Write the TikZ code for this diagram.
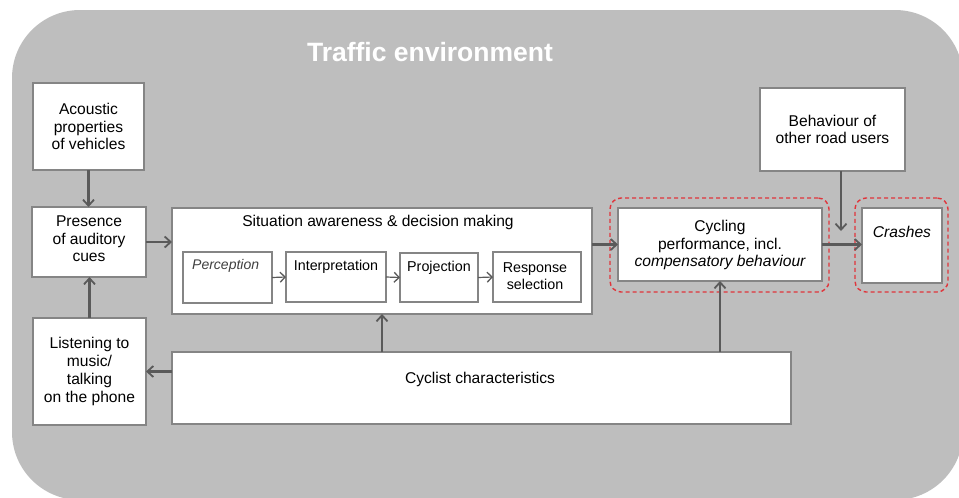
\documentclass[tikz,border=0pt]{standalone}
\usepackage{fontspec}
\setmainfont{Liberation Sans}
\usetikzlibrary{arrows.meta}
\definecolor{envgray}{HTML}{BEBEBE}
\definecolor{boxline}{HTML}{858585}
\definecolor{arrowgray}{HTML}{5A5A5A}
\definecolor{hilite}{HTML}{E0353B}
\tikzset{
  box/.style={draw=boxline, line width=1.1pt, fill=white, rectangle,
    inner sep=0pt, outer sep=0pt},
  txt/.style={align=center, inner sep=0pt, font=\fontsize{15.6}{17.7}\selectfont},
  smalltxt/.style={align=center, inner sep=0pt, font=\fontsize{14.3}{16.5}\selectfont},
  arr/.style={draw=arrowgray, line width=2.2pt,
    -{Straight Barb[length=6pt,width=11pt,line width=1.8pt]}},
  thinarr/.style={draw=arrowgray, line width=1.2pt,
    -{Straight Barb[length=5pt,width=10pt,line width=1.3pt]}},
  focus/.style={draw=hilite, line width=1.4pt, dash pattern=on 4pt off 3pt,
    rounded corners=11pt, rectangle, inner sep=0pt, outer sep=0pt}
}
\begin{document}
\begin{tikzpicture}[x=1pt,y=-1pt]
\useasboundingbox (0,0) rectangle (959,498);
% environment panel
\begin{scope}
  \clip (0,0) rectangle (959,498);
  \fill[envgray, rounded corners=68pt] (12,10) rectangle (963,500);
\end{scope}
\node[txt, text=white, font=\fontsize{26.5}{30}\selectfont\bfseries] (env) at (430,52) {Traffic environment};

% highlight frames (drawn first, boxes sit on top)
\node[focus, minimum width=103pt, minimum height=68pt] (percD) at (228.5,276) {};
\node[focus, minimum width=219pt, minimum height=94pt] (perfD) at (719.5,245) {};
\node[focus, minimum width=93pt, minimum height=94pt] (crashD) at (901.5,245) {};

% left column
\node[box, minimum width=111pt, minimum height=87pt] (acou) at (88.5,126.5) {};
\node[txt] (acout) at (acou) {Acoustic\\properties\\of vehicles};
\node[box, minimum width=114pt, minimum height=70pt] (pres) at (89,242) {};
\node[txt] (prest) at (89,239) {Presence\\of auditory\\cues};
\node[box, minimum width=113pt, minimum height=107pt] (listen) at (89.5,371.5) {};
\node[txt] (listent) at (listen) {Listening to\\music/\\talking\\on the phone};

% situation awareness block
\node[box, minimum width=420pt, minimum height=106pt] (sit) at (382,261) {};
\node[txt] (sitt) at (378,222) {Situation awareness \& decision making};
\node[box, minimum width=89pt, minimum height=51pt] (perc) at (227.5,277.5) {};
\node[smalltxt, anchor=west, text=black!75, font=\fontsize{14}{16.5}\selectfont\itshape] (perct) at (192,266) {Perception};
\node[box, minimum width=100pt, minimum height=50pt] (interp) at (336,277) {};
\node[smalltxt] (interpt) at (336,267) {Interpretation};
\node[box, minimum width=78pt, minimum height=49pt] (proj) at (439,277.5) {};
\node[smalltxt] (projt) at (439,268) {Projection};
\node[box, minimum width=88pt, minimum height=50pt] (resp) at (537,277) {};
\node[smalltxt] (respt) at (535,276) {Response\\selection};

% cyclist characteristics
\node[box, minimum width=619pt, minimum height=72pt] (cyc) at (481.5,388) {};
\node[txt] (cyct) at (480,379) {Cyclist characteristics};

% right side
\node[box, minimum width=204pt, minimum height=73pt] (perf) at (720,244.5) {};
\node[txt] (perft) at (720,245) {Cycling\\performance, incl.\\\itshape compensatory behaviour};
\node[box, minimum width=145pt, minimum height=83pt] (beh) at (832.5,129.5) {};
\node[txt] (beht) at (beh) {Behaviour of\\other road users};
\node[box, minimum width=80pt, minimum height=75pt] (crash) at (902,245.5) {};
\node[txt, font=\fontsize{15.6}{17.7}\selectfont\itshape] (crasht) at (902,232) {Crashes};
\coordinate (behend) at (841,231);

% connectors
\draw[arr] (acou.south) -- (acou.south |- pres.north);
\draw[arr] (pres.east) -- (pres.east -| sit.west);
\draw[arr] (listen.north) -- (listen.north |- pres.south);
\draw[arr] (cyc.west |- listen.east) -- (listen.east);
\draw[arr] (sit.south |- cyc.north) -- (sit.south);
\draw[arr] (perf.south |- cyc.north) -- (perf.south);
\draw[arr] (sit.east |- perf.west) -- (perf.west);
\draw[arr] (perf.east) -- (perf.east -| crash.west);
\draw[arr] (behend |- beh.south) -- (behend);
\draw[thinarr] (perc.east) -- (interp.west);
\draw[thinarr] (interp.east) -- (proj.west);
\draw[thinarr] (proj.east) -- (resp.west);
\end{tikzpicture}
\end{document}
